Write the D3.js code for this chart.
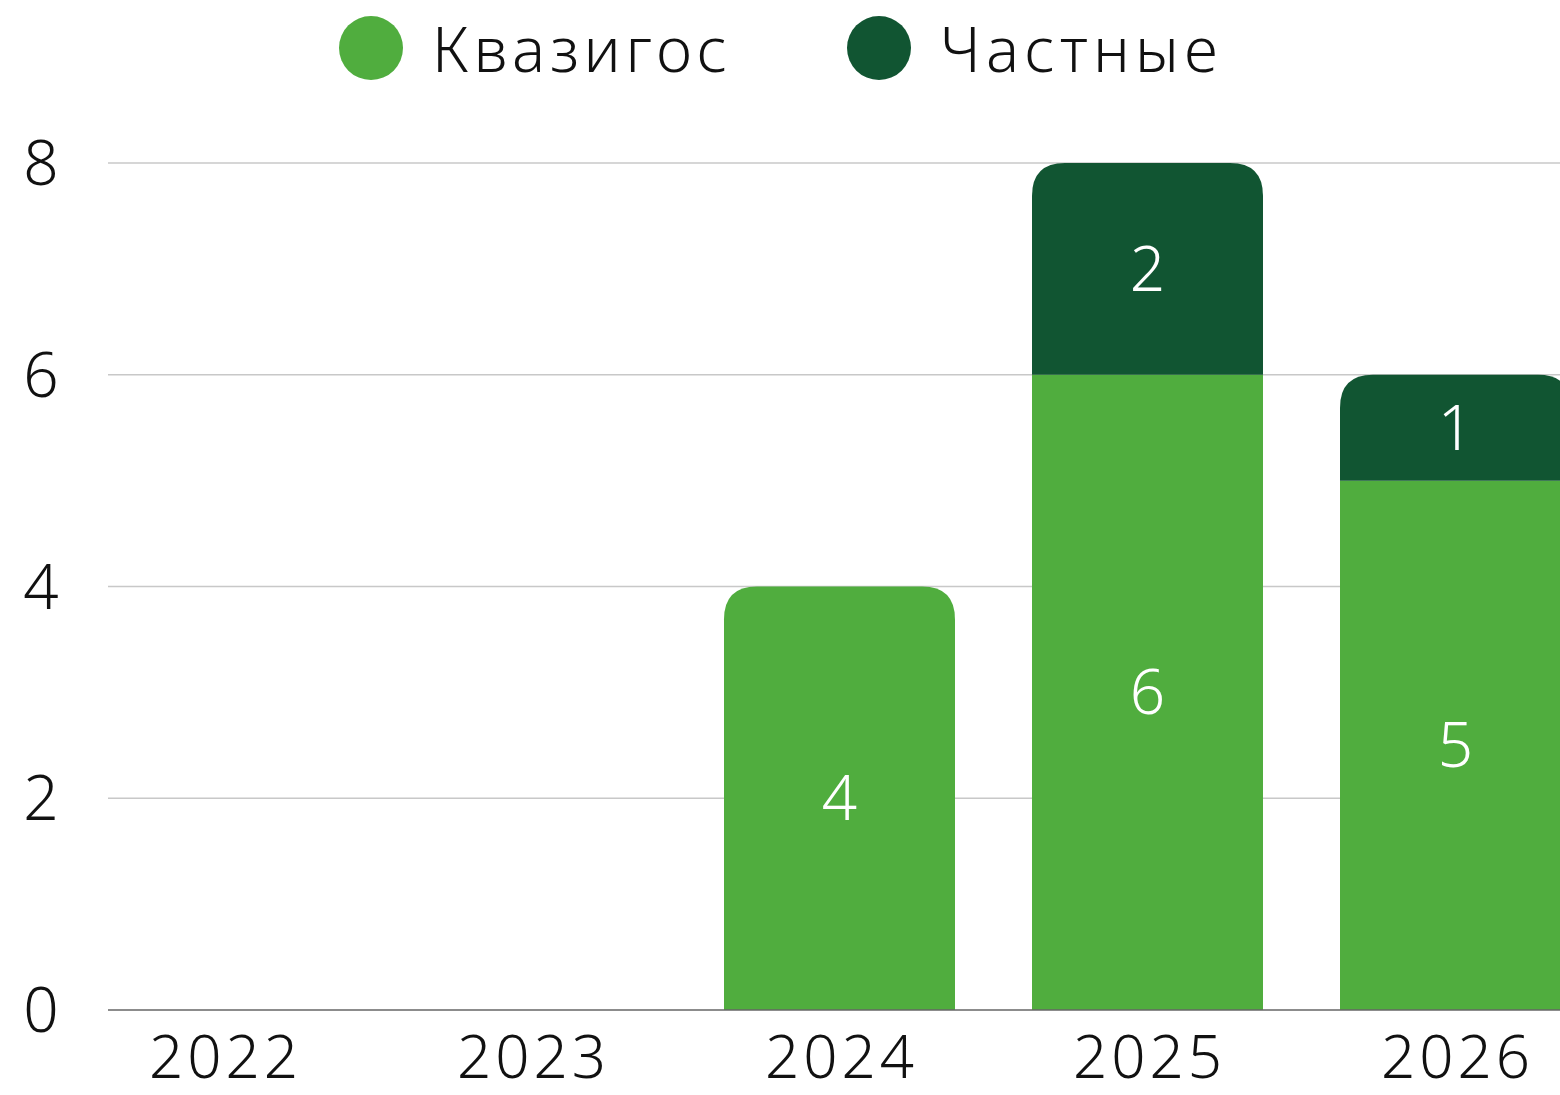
<!DOCTYPE html>
<html><head><meta charset="utf-8">
<script src="https://cdn.jsdelivr.net/npm/d3@7"></script>
<style>
html,body{margin:0;padding:0;background:#fff;overflow:hidden}
text{font-family:"Noto Sans","Open Sans",sans-serif;font-weight:300}
</style></head>
<body>
<svg id="c" width="1560" height="1095"></svg>
<script>
const categories = ["2022","2023","2024","2025","2026"];
const seriesNames = ["Квазигос","Частные"];
const kvazigos = [0,0,4,6,5];
const chastnye = [0,0,0,2,1];
const yTicks = [0,2,4,6,8];
const colors = ["#50ad3e","#115532"];

const svg = d3.select("#c");
const x = d3.scaleBand().domain(categories).range([69.5, 69.5+308*5]).paddingInner(0.25).paddingOuter(0.125);
const y = d3.scaleLinear().domain([0,8]).range([1010,163]);

// grid
svg.append("g").selectAll("line").data(yTicks.filter(d=>d>0)).join("line")
  .attr("x1",108).attr("x2",1560).attr("y1",d=>y(d)).attr("y2",d=>y(d))
  .attr("stroke","#c8c8c8").attr("stroke-width",1.5);

// y labels
svg.append("g").selectAll("text").data(yTicks).join("text")
  .attr("x",41).attr("y",d=>y(d)+22).attr("text-anchor","middle")
  .attr("font-size",62).attr("fill","#111").text(d=>d);

// stacked data
const rows = categories.map((c,i)=>({cat:c, [seriesNames[0]]:kvazigos[i], [seriesNames[1]]:chastnye[i]}));
const stack = d3.stack().keys(seriesNames)(rows);
const r = 33;
function segPath(x0,w,yTop,yBot,rounded){
  if(!rounded) return `M${x0},${yBot}V${yTop}H${x0+w}V${yBot}Z`;
  const rr=Math.min(r,(yBot-yTop));
  return `M${x0},${yBot}V${yTop+rr}Q${x0},${yTop} ${x0+rr},${yTop}H${x0+w-rr}Q${x0+w},${yTop} ${x0+w},${yTop+rr}V${yBot}Z`;
}
stack.forEach((layer,li)=>{
  const g = svg.append("g");
  layer.forEach((d,i)=>{
    const v = d[1]-d[0];
    if(v<=0) return;
    const isTop = (li===stack.length-1) || chastnye[i]===0;
    g.append("path").attr("d",segPath(x(categories[i]),x.bandwidth(),y(d[1]),y(d[0]),isTop))
      .attr("fill",colors[li]);
    g.append("text").attr("x",x(categories[i])+x.bandwidth()/2)
      .attr("y",(y(d[0])+y(d[1]))/2+22).attr("text-anchor","middle")
      .attr("font-size",62).attr("fill","#fff").text(v);
  });
});

// baseline
svg.append("line").attr("x1",108).attr("x2",1560).attr("y1",y(0)).attr("y2",y(0))
  .attr("stroke","#666").attr("stroke-width",1.5);

// x labels
svg.append("g").selectAll("text").data(categories).join("text")
  .attr("x",d=>x(d)+x.bandwidth()/2+2).attr("y",1078).attr("text-anchor","middle")
  .attr("font-size",60).attr("letter-spacing",4).attr("fill","#111").text(d=>d);

// legend
const legX = [371,879];
const legSp = [4.8,5.3];
seriesNames.forEach((n,i)=>{
  svg.append("circle").attr("cx",legX[i]).attr("cy",48).attr("r",32).attr("fill",colors[i]);
  svg.append("text").attr("x",legX[i]+61).attr("y",72).attr("font-size",62)
    .attr("letter-spacing",legSp[i]).attr("fill","#111").text(n);
});
</script>
</body></html>
